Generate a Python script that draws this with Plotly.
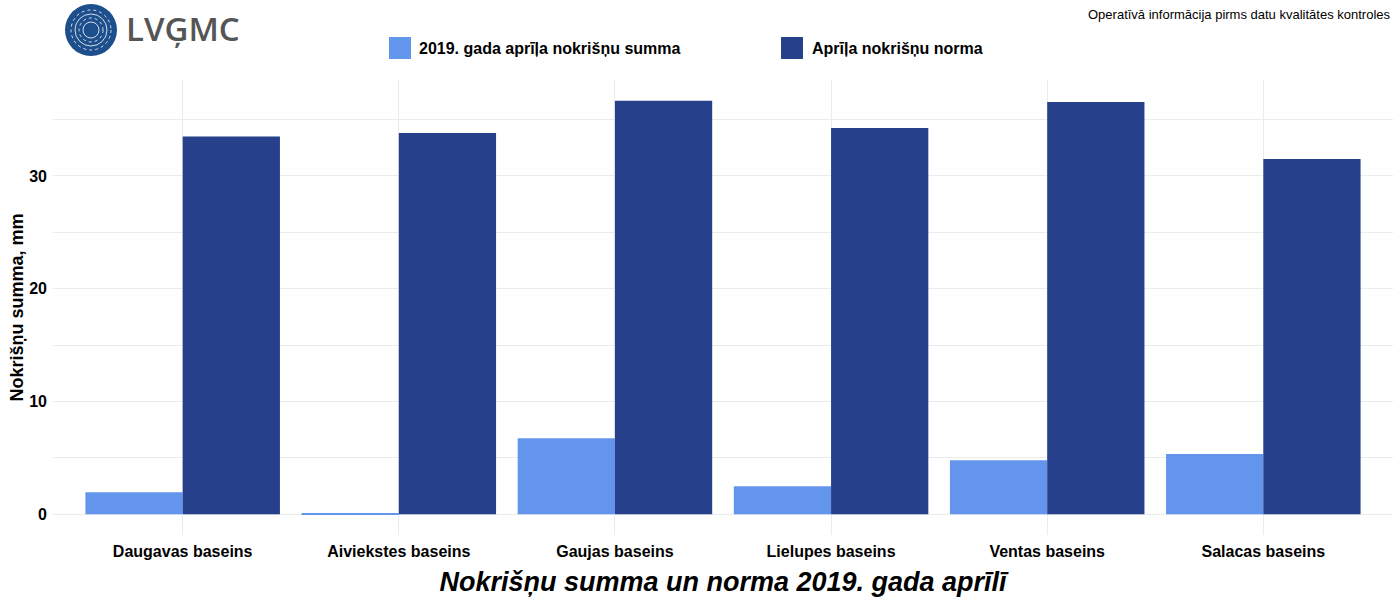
import plotly.graph_objects as go

categories = ["Daugavas baseins", "Aiviekstes baseins", "Gaujas baseins",
              "Lielupes baseins", "Ventas baseins", "Salacas baseins"]
sum_2019 = [1.95, 0.1, 6.75, 2.5, 4.8, 5.35]
norm_april = [33.5, 33.8, 36.65, 34.25, 36.55, 31.5]
series_names = ["2019. gada aprīļa nokrišņu summa", "Aprīļa nokrišņu norma"]
colors = ["#6495ED", "#27408B"]
y_ticks = [0, 10, 20, 30]

W, H = 1400, 600
L, R, T, B = 53, 7, 80, 65
pw, ph = W - L - R, H - T - B


def px(x):
    return (x - L) / pw


def py(y):
    return (H - B - y) / ph


FONT = "Arial, Liberation Sans, sans-serif"

fig = go.Figure()
fig.add_trace(go.Bar(x=categories, y=sum_2019, name=series_names[0],
                     marker=dict(color=colors[0], line=dict(width=0)), showlegend=False))
fig.add_trace(go.Bar(x=categories, y=norm_april, name=series_names[1],
                     marker=dict(color=colors[1], line=dict(width=0)), showlegend=False))

shapes = []
annotations = []

# manual legend
for sx, tx, name, col in [(389, 418, series_names[0], colors[0]),
                          (781, 811, series_names[1], colors[1])]:
    shapes.append(dict(type="rect", xref="paper", yref="paper",
                       x0=px(sx), x1=px(sx + 22), y0=py(59), y1=py(37),
                       fillcolor=col, line=dict(width=0)))
    annotations.append(dict(text=name, xref="paper", yref="paper", x=px(tx - 1), y=py(48),
                            xanchor="left", yanchor="middle", showarrow=False,
                            font=dict(family=FONT, size=16, color="#000", weight="bold")))

# top-right note
annotations.append(dict(text="Operatīvā informācija pirms datu kvalitātes kontroles",
                        xref="paper", yref="paper", x=px(1393), y=py(14),
                        xanchor="right", yanchor="middle", showarrow=False,
                        font=dict(family=FONT, size=13, color="#000")))

# logo
cx, cy, r = 91, 30, 26
shapes.append(dict(type="circle", xref="paper", yref="paper",
                   x0=px(cx - r), x1=px(cx + r), y0=py(cy + r), y1=py(cy - r),
                   fillcolor="#1d4f8c", line=dict(width=0)))
for rr, dash in [(20, "dot"), (16, "solid"), (12, "dot"), (8, "solid")]:
    shapes.append(dict(type="circle", xref="paper", yref="paper",
                       x0=px(cx - rr), x1=px(cx + rr), y0=py(cy + rr), y1=py(cy - rr),
                       line=dict(color="rgba(255,255,255,0.8)", width=1, dash=dash)))
annotations.append(dict(text="LVĢMC", xref="paper", yref="paper", x=px(124), y=py(29),
                        xanchor="left", yanchor="middle", showarrow=False,
                        font=dict(family="Open Sans, Arial, sans-serif", size=33,
                                  color="#555555", weight=600)))

fig.update_layout(
    width=W, height=H,
    margin=dict(l=L, r=R, t=T, b=B, pad=0),
    paper_bgcolor="white", plot_bgcolor="white",
    barmode="group", bargap=0.1, bargroupgap=0,
    font=dict(family=FONT, color="#000"),
    shapes=shapes, annotations=annotations,
    xaxis=dict(
        showgrid=True, gridcolor="#ebebeb", gridwidth=1,
        zeroline=False, showline=False, ticks="",
        ticklabelstandoff=5,
        tickfont=dict(family=FONT, size=16, color="#000", weight="bold"),
        title=dict(text="Nokrišņu summa un norma 2019. gada aprīlī",
                   font=dict(family=FONT, size=27, color="#000", weight="bold", style="italic"),
                   standoff=13),
        range=[-0.6, 5.6], fixedrange=True,
    ),
    yaxis=dict(
        range=[-1.83, 38.5],
        tickvals=y_ticks, ticktext=[str(v) for v in y_ticks],
        showgrid=True, gridcolor="#ebebeb", gridwidth=1,
        minor=dict(tickvals=[5, 15, 25, 35], showgrid=True, gridcolor="#ebebeb", gridwidth=1),
        zeroline=False, showline=False, ticks="",
        ticklabelstandoff=5,
        tickfont=dict(family=FONT, size=16, color="#000", weight="bold"),
        title=dict(text="Nokrišņu summa, mm",
                   font=dict(family=FONT, size=18, color="#000", weight="bold"),
                   standoff=0),
    ),
)

fig.write_html("out.html")
